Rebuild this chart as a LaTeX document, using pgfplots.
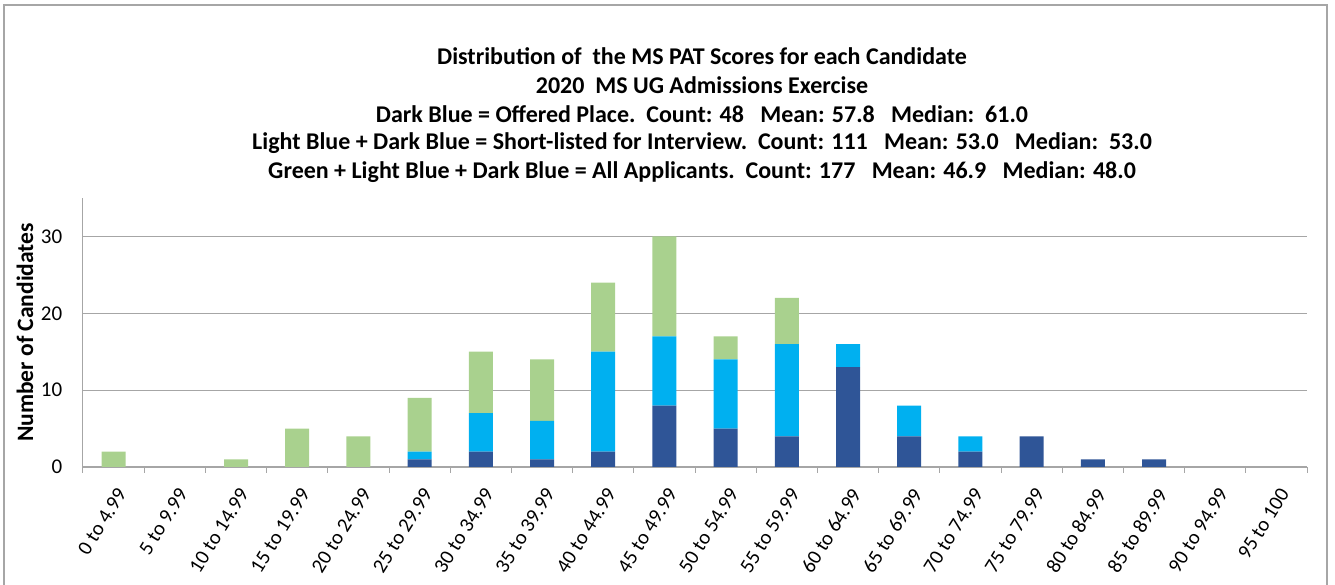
\documentclass[border=0pt]{standalone}
\usepackage{pgfplots}
\pgfplotsset{compat=1.18}
\usepackage{fontspec}
\setmainfont{Carlito}
\definecolor{dblue}{HTML}{2F5597}
\definecolor{lblue}{HTML}{00B0F0}
\definecolor{lgreen}{HTML}{A9D18E}
\definecolor{axgray}{HTML}{A6A6A6}
\definecolor{grgray}{HTML}{A6A6A6}
\begin{document}
\begin{tikzpicture}
\useasboundingbox (-83pt,-118pt) rectangle (1252pt,467pt);
\draw[axgray,line width=1.2pt] (-79pt,-120pt) -- (-79pt,462pt) -- (1244pt,462pt) -- (1244pt,-120pt);
\begin{axis}[
  at={(0pt,0pt)}, anchor=south west,
  scale only axis, width=1224pt, height=269pt,
  ybar stacked, bar width=24pt,
  xmin=-0.5, xmax=19.5, ymin=0, ymax=35,
  xtick={0,...,19},
  xticklabels={0 to 4.99,5 to 9.99,10 to 14.99,15 to 19.99,20 to 24.99,25 to 29.99,30 to 34.99,35 to 39.99,40 to 44.99,45 to 49.99,50 to 54.99,55 to 59.99,60 to 64.99,65 to 69.99,70 to 74.99,75 to 79.99,80 to 84.99,85 to 89.99,90 to 94.99,95 to 100},
  major x tick style={draw=none},
  minor xtick={-0.5,0.5,...,19.5},
  minor x tick style={axgray, line width=1pt},
  minor tick length=6pt,
  tick align=outside,
  ytick={0,10,20,30},
  ytick style={draw=none},
  ymajorgrids, grid style={grgray, line width=0.9pt},
  axis x line*=bottom, axis y line*=left,
  axis line style={axgray, line width=1pt, -},
  /pgf/number format/assume math mode=true,
  yticklabel style={font=\fontsize{21}{24}\selectfont, anchor=east, xshift=-13pt},
  xticklabel style={font=\fontsize{20.5}{24}\selectfont, rotate=58, anchor=north east, inner sep=0pt, xshift=-12pt, yshift=-10pt},
  ylabel={\textbf{Number of Candidates}},
  every axis y label/.style={at={(axis description cs:-0.0474,0.5)}, rotate=90, anchor=center, font=\fontsize{23.5}{26}\selectfont},
]
\addplot[fill=dblue, draw=none] coordinates {(0,0) (1,0) (2,0) (3,0) (4,0) (5,1) (6,2) (7,1) (8,2) (9,8) (10,5) (11,4) (12,13) (13,4) (14,2) (15,4) (16,1) (17,1) (18,0) (19,0)};
\addplot[fill=lblue, draw=none] coordinates {(0,0) (1,0) (2,0) (3,0) (4,0) (5,1) (6,5) (7,5) (8,13) (9,9) (10,9) (11,12) (12,3) (13,4) (14,2) (15,0) (16,0) (17,0) (18,0) (19,0)};
\addplot[fill=lgreen, draw=none] coordinates {(0,2) (1,0) (2,1) (3,5) (4,4) (5,7) (6,8) (7,8) (8,9) (9,13) (10,3) (11,6) (12,0) (13,0) (14,0) (15,0) (16,0) (17,0) (18,0) (19,0)};
\end{axis}
\begin{scope}[font=\bfseries\fontsize{24}{28}\selectfont]
\node at (619pt,411pt) {Distribution of\ \ the MS PAT Scores for each Candidate};
\node at (619pt,382pt) {2020\ \ MS UG Admissions Exercise};
\node at (619pt,353pt) {Dark Blue = Offered Place.\ \ Count: 48\ \ \ Mean: 57.8\ \ \ Median:\ \ 61.0};
\node at (619pt,324pt) {Light Blue + Dark Blue = Short-listed for Interview.\ \ Count: 111\ \ \ Mean: 53.0\ \ \ Median:\ \ 53.0};
\node at (619pt,295pt) {Green + Light Blue + Dark Blue = All Applicants.\ \ Count: 177\ \ \ Mean: 46.9\ \ \ Median: 48.0};
\end{scope}
\end{tikzpicture}
\end{document}
